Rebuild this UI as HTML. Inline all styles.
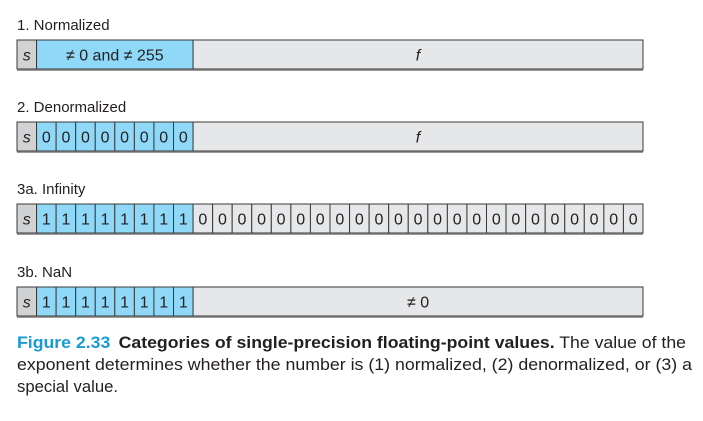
<!DOCTYPE html>
<html><head><meta charset="utf-8"><style>
html,body{margin:0;padding:0;background:#fff;}
svg{display:block;font-family:"Liberation Sans",sans-serif;}
</style></head><body>
<svg id="fig" width="703" height="421" viewBox="0 0 703 421">
<g id="rows"></g>
<g font-size="17" fill="#231f20">
<text x="17" y="348" textLength="669" lengthAdjust="spacingAndGlyphs"><tspan fill="#1a9ad6" font-weight="bold">Figure 2.33</tspan><tspan dx="8" font-weight="bold">Categories of single-precision floating-point values.</tspan> The value of the</text>
<text x="17" y="370" textLength="675" lengthAdjust="spacingAndGlyphs">exponent determines whether the number is (1) normalized, (2) denormalized, or (3) a</text>
<text x="17" y="392" textLength="101" lengthAdjust="spacingAndGlyphs">special value.</text>
</g>
</svg>
<script>
const rowTitles = ["1. Normalized","2. Denormalized","3a. Infinity","3b. NaN"];
const rowTops = [40,122,204,287];
const expLabels = [null, ["0","0","0","0","0","0","0","0"], ["1","1","1","1","1","1","1","1"], ["1","1","1","1","1","1","1","1"]];
const expMerged = ["\u2260 0 and \u2260 255", null, null, null];
const fracLabels = ["f","f",null,"\u2260 0"];
const fracBits = [null,null,Array(23).fill("0"),null];
const NS="http://www.w3.org/2000/svg";
const g=document.getElementById('rows');
const X0=17, W=626, H=29, cw=W/32;
function el(t,a,p){const e=document.createElementNS(NS,t);for(const k in a)e.setAttribute(k,a[k]);(p||g).appendChild(e);return e;}
function cell(x,y,w,fill,label,italic,name,p){
  const r=el('rect',{x:x,y:y,width:w,height:H,fill:fill,stroke:'#3a3a3a','stroke-width':1},p);
  
  
  if(label!==null){const t=el('text',{x:x+w/2,y:y+H/2+6,'text-anchor':'middle','font-size':16,fill:'#231f20'},p);
    if(italic)t.setAttribute('font-style','italic');t.textContent=label;
    
    }
}
rowTitles.forEach((title,i)=>{
  const y=rowTops[i];
  const rg=el('g',{});
  
  
  const tt=el('text',{x:17,y:y-10,'font-size':15,fill:'#231f20'},rg);tt.textContent=title;
  
  
  el('rect',{x:X0,y:y+H,width:W,height:2,fill:'#9a9a9a'},rg);
  cell(X0,y,cw,'#d1d2d4','s',true,'sign-cell',rg);
  if(expMerged[i]!==null) cell(X0+cw,y,cw*8,'#8fd8f7',expMerged[i],false,'exponent-field',rg);
  else expLabels[i].forEach((b,k)=>cell(X0+cw*(1+k),y,cw,'#8fd8f7',b,false,'exponent-bit',rg));
  if(fracBits[i]) fracBits[i].forEach((b,k)=>cell(X0+cw*(9+k),y,cw,'#e6e7e8',b,false,'fraction-bit',rg));
  else cell(X0+cw*9,y,cw*23,'#e6e7e8',fracLabels[i],fracLabels[i]==='f','fraction-field',rg);
});
</script>
</body></html>
